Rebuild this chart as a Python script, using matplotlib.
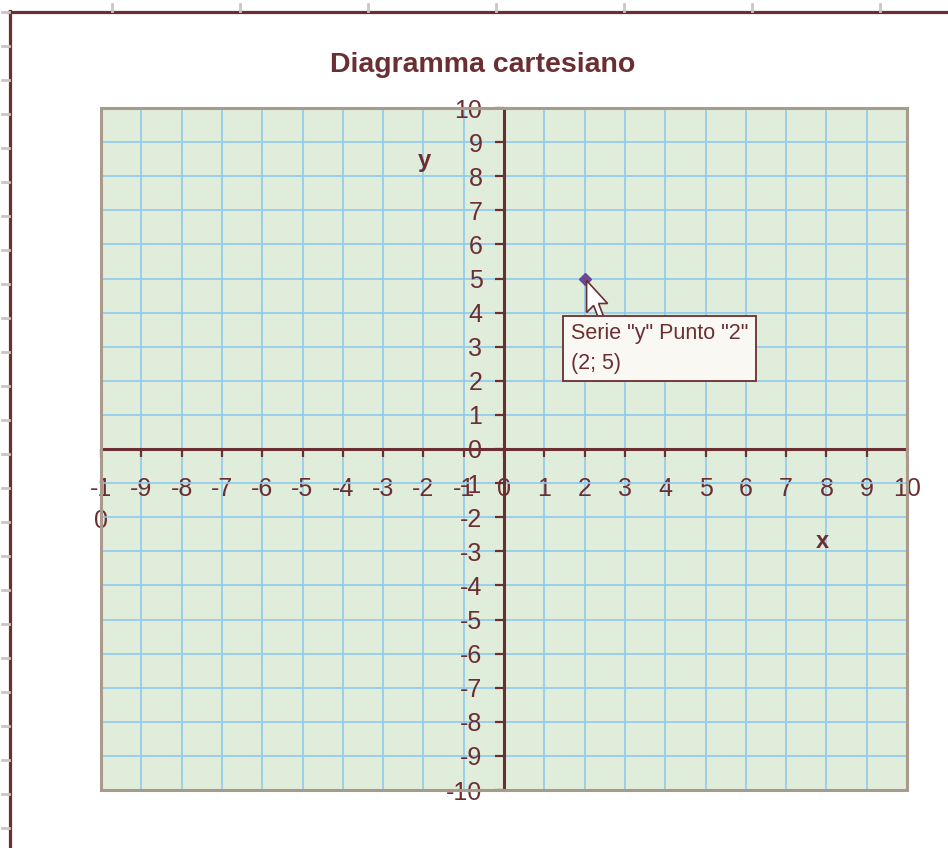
import matplotlib
matplotlib.use("Agg")
import matplotlib.pyplot as plt
import matplotlib.transforms as mtransforms
from matplotlib.patches import Rectangle, Polygon
from matplotlib.lines import Line2D

# ---- data ----
x_ticks = list(range(-10, 11))
y_ticks = list(range(-10, 11))
x_tick_labels = ["-1\n0"] + [str(v) for v in range(-9, 11)]
y_tick_labels = [str(v) for v in range(-10, 11)]
point_x = [2]
point_y = [5]
title = "Diagramma cartesiano"
tooltip = 'Serie "y" Punto "2"\n(2; 5)'

# ---- styles ----
MAROON = "#6B2E33"
BG = "#E0EDDB"
GRID = "#8EC9EE"
BORDER = "#A99A8C"
GREYTICK = "#CEC4C0"
PURPLE = "#6A4A94"

W, H = 948, 848
fig = plt.figure(figsize=(W / 100, H / 100), dpi=100)
fig.patch.set_facecolor("white")

def fx(px):
    return px / W

def fy(py):
    return 1 - py / H

ax = fig.add_axes([fx(101), fy(790), (907 - 101) / W, (790 - 108) / H])
ax.set_facecolor(BG)
ax.set_xlim(-10, 10)
ax.set_ylim(-10, 10)
ax.set_axisbelow(True)
ax.grid(True, color=GRID, linewidth=1.2)

for s in ["top", "right"]:
    ax.spines[s].set_visible(False)
ax.spines["left"].set_position(("data", 0))
ax.spines["bottom"].set_position(("data", 0))
for s in ["left", "bottom"]:
    ax.spines[s].set_color(MAROON)
    ax.spines[s].set_linewidth(2.2)

ax.add_patch(Rectangle((0, 0), 1, 1, transform=ax.transAxes, fill=False,
                       edgecolor=BORDER, linewidth=2.2, zorder=3, clip_on=False))

ax.set_xticks(x_ticks)
ax.set_yticks(y_ticks)
ax.set_xticklabels(x_tick_labels, fontfamily="Liberation Sans", fontsize=18,
                   color=MAROON, linespacing=1.45)
ax.set_yticklabels(y_tick_labels, fontfamily="Liberation Sans", fontsize=18,
                   color=MAROON)
ax.tick_params(axis="x", direction="out", length=6, width=1.6, color=MAROON, pad=14)
ax.tick_params(axis="y", direction="out", length=6.5, width=1.6, color=MAROON, pad=9)

# axis titles
ax.text(-1.98, 8.47, "y", ha="center", va="center", fontfamily="Liberation Sans",
        fontweight="bold", fontsize=17, color=MAROON)
ax.text(7.89, -2.70, "x", ha="center", va="center", fontfamily="Liberation Sans",
        fontweight="bold", fontsize=17, color=MAROON)

# data point
ax.plot(point_x, point_y, linestyle="none", marker="D", markersize=6,
        color=PURPLE, zorder=5)

# mouse cursor (pixel offsets from the point)
cur = [(0, 0), (0, -32), (7, -25), (12, -38), (17, -36), (12, -23), (21, -23)]
ctrans = mtransforms.Affine2D().translate(2, -2) + mtransforms.ScaledTranslation(
    point_x[0], point_y[0], ax.transData)
ax.add_patch(Polygon(cur, closed=True, facecolor="white", edgecolor=MAROON,
                     linewidth=1.2, transform=ctrans, zorder=6, clip_on=False))

# tooltip
ax.annotate(tooltip, xy=(point_x[0], point_y[0]), xytext=(-14, -45),
            textcoords="offset pixels", ha="left", va="top",
            fontfamily="Liberation Sans", fontsize=15.5, color=MAROON,
            linespacing=1.5,
            bbox=dict(boxstyle="square,pad=0.35", facecolor="#FAF8F3",
                      edgecolor=MAROON, linewidth=1.3),
            zorder=7)

# title
fig.text(fx(483), fy(65), title, ha="center", va="center",
         fontfamily="Liberation Sans", fontweight="bold", fontsize=20.5,
         color=MAROON)

# outer Excel frame
fig.add_artist(Line2D([fx(10), fx(10)], [fy(11), 0], color=MAROON, linewidth=2.3))
fig.add_artist(Line2D([fx(9), 1], [fy(12), fy(12)], color=MAROON, linewidth=2.3))
for px in range(112, W, 128):
    fig.add_artist(Line2D([fx(px), fx(px)], [fy(4), fy(11)], color=GREYTICK, linewidth=2))
for py in range(12, H, 34):
    fig.add_artist(Line2D([fx(2), fx(9)], [fy(py), fy(py)], color=GREYTICK, linewidth=2))

fig.savefig("out.png", dpi=100)
